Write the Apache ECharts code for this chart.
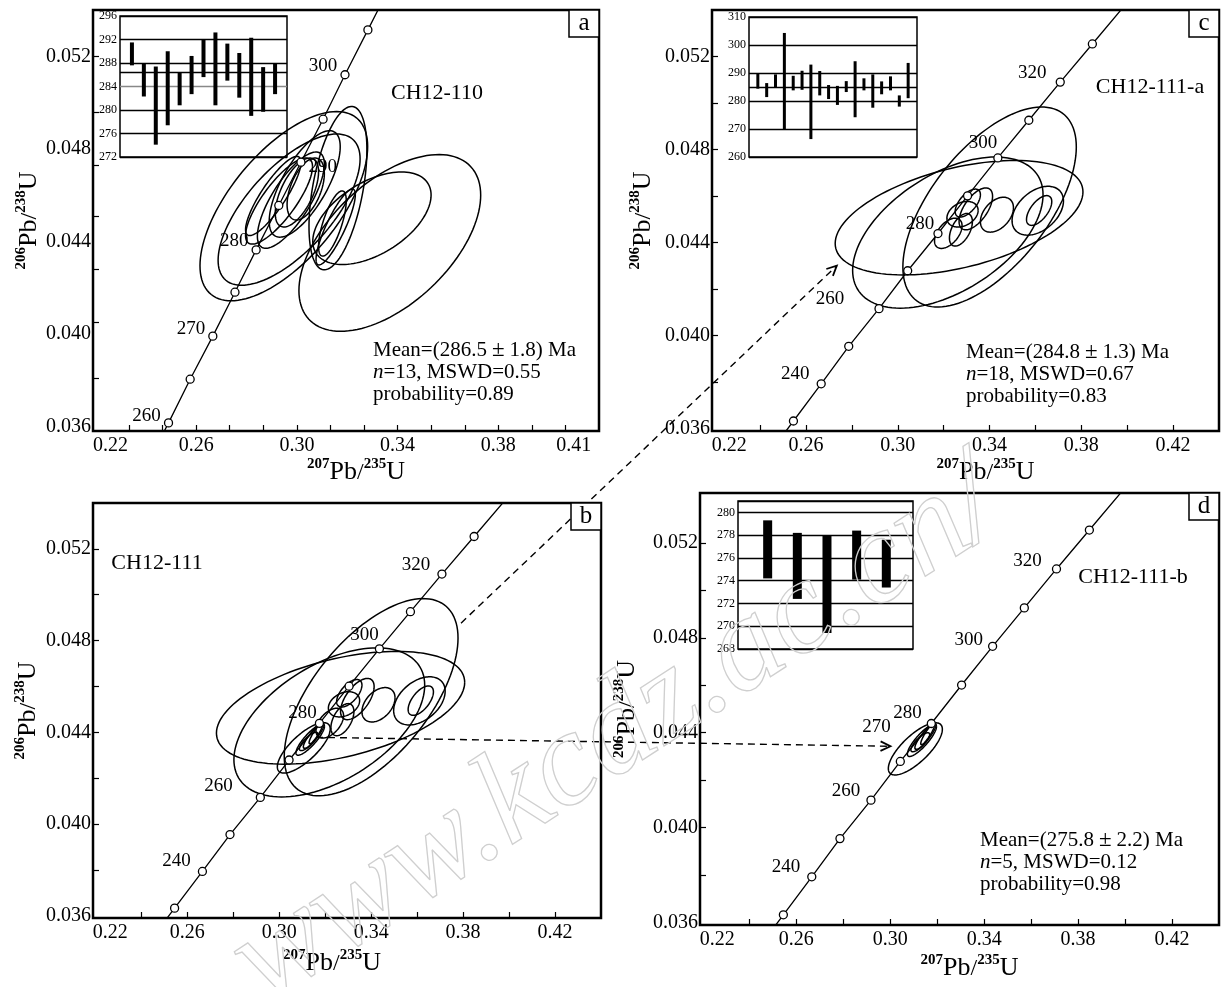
<!DOCTYPE html>
<html><head><meta charset="utf-8">
<script src="https://cdn.jsdelivr.net/npm/echarts@6/dist/echarts.min.js"></script>
<style>html,body{margin:0;padding:0;background:#fff}#c{width:1227px;height:987px}</style>
</head><body><div id="c"></div><script>
// ================= DATA =================
// Panel a concordia (markers every 5 Ma)
const concA_age = [260,265,270,275,280,285,290,295,300,305];
const concA_x = [0.2490,0.2576,0.2666,0.2754,0.2838,0.2928,0.3016,0.3104,0.3191,0.3282];
const concA_y = [0.03615,0.03804,0.03990,0.04180,0.04363,0.04555,0.04742,0.04928,0.05120,0.05314];
const concA_labels = [260,270,280,290,300];
const concA_ends = [[0.2464,0.0356],[0.3350,0.0546]];
// Panels b, c, d concordia (markers every 10 Ma)
const conc_age = [230,240,250,260,270,280,290,300,310,320,330];
const conc_x = [0.2545,0.2666,0.2786,0.2918,0.3043,0.3175,0.3304,0.3436,0.3571,0.3708,0.3848];
const conc_y = [0.03633,0.03793,0.03954,0.04116,0.04279,0.04439,0.04601,0.04764,0.04926,0.05090,0.05254];
const conc_ends = [[0.2505,0.0358],[0.4015,0.0545]];
const concB_labels = [240,260,280,300,320];
const concC_labels = [240,260,280,300,320];
const concD_labels = [240,260,270,280,300,320];

// Axis ticks / labels
const xTicksA = [0.2333,0.2467,0.26,0.2733,0.2867,0.30,0.3133,0.3267,0.34,0.3533,0.3667,0.38,0.3933,0.4067];
const xLabelsA = [0.22,0.26,0.30,0.34,0.38,0.41];
const yTicksA = [0.0381,0.0405,0.0428,0.0451,0.0473,0.0496,0.0520];
const yLabelsA = [0.036,0.040,0.044,0.048,0.052];
const xTicks = [0.24,0.26,0.28,0.30,0.32,0.34,0.36,0.38,0.40,0.42];
const xLabels = [0.22,0.26,0.30,0.34,0.38,0.42];
const yTicks = [0.038,0.040,0.042,0.044,0.046,0.048,0.050,0.052];
const yLabels = [0.036,0.040,0.044,0.048,0.052];

// Error ellipses: [x centre, y centre, x half-width, y half-height, rho]
const ellipsesA = [
  [0.2948,0.04552,0.0333,0.00409,0.63],
  [0.2969,0.04537,0.0282,0.00327,0.67],
  [0.3369,0.04393,0.0361,0.00382,0.54],
  [0.3298,0.04500,0.0235,0.00200,0.50],
  [0.3163,0.04630,0.0115,0.00353,0.47],
  [0.2929,0.04574,0.0133,0.00186,0.80],
  [0.2976,0.04578,0.0133,0.00208,0.75],
  [0.3035,0.04626,0.0074,0.00134,0.50],
  [0.3031,0.04648,0.0141,0.00230,0.70],
  [0.3154,0.04462,0.0078,0.00164,0.85],
  [0.3141,0.04477,0.0055,0.00141,0.70],
  [0.2906,0.04596,0.0110,0.00171,0.85],
  [0.3000,0.04611,0.0086,0.00149,0.60]
];
const ellipsesC = [
  [0.3400,0.04553,0.0378,0.00430,0.60],
  [0.3267,0.04507,0.0540,0.00246,0.45],
  [0.3218,0.04443,0.0415,0.00325,0.50],
  [0.3610,0.04537,0.0112,0.00105,0.40],
  [0.3616,0.04538,0.0055,0.00064,0.60],
  [0.3432,0.04520,0.0072,0.00075,0.40],
  [0.3340,0.04545,0.0073,0.00090,0.60],
  [0.3282,0.04522,0.0068,0.00055,0.30],
  [0.3220,0.04440,0.0060,0.00065,0.50],
  [0.3275,0.04455,0.0050,0.00070,0.50],
  [0.3305,0.04570,0.0055,0.00060,0.60]
];
const ellipsesD = [
  [0.3107,0.04332,0.0115,0.00110,0.75],
  [0.3135,0.04368,0.0062,0.00068,0.85],
  [0.3150,0.04385,0.0045,0.00055,0.88],
  [0.3160,0.04395,0.0030,0.00045,0.90],
  [0.3128,0.04360,0.0040,0.00040,0.80]
];

// Inset age bars (Ma): low / high
const insetA_low  = [287.6,282.3,274.1,277.4,280.8,282.7,285.6,280.8,285.0,282.1,279.0,279.7,282.7];
const insetA_high = [291.5,288.0,287.4,290.0,286.4,289.2,292.0,293.2,291.3,289.7,292.3,287.3,288.0];
const insetC_low  = [284.4,281.4,285.0,270.0,283.8,284.0,266.4,282.0,280.7,278.6,283.2,274.2,283.8,277.6,282.4,283.8,278.0,281.0];
const insetC_high = [290.0,286.4,289.5,304.3,289.0,290.8,293.0,290.7,285.7,285.4,287.1,294.2,288.1,289.5,287.0,288.8,282.0,293.6];
const insetD_low  = [274.2,272.4,269.4,274.1,273.4];
const insetD_high = [279.3,278.2,278.0,278.4,277.6];
const meanA = 286.5, meanC = 284.8;

const samples = ['CH12-110','CH12-111-a','CH12-111','CH12-111-b'];
const stats = {
  a: ['286.5','1.8','13','0.55','0.89'],
  c: ['284.8','1.3','18','0.67','0.83'],
  d: ['275.8','2.2','5','0.12','0.98']
};
// arrow annotations (data coords of the source / target panels)
const arrow1 = {from:[0.3791,0.04876], to:[0.2734,0.04301]}; // b -> c
const arrow2 = {from:[0.3160,0.04378], to:[0.3001,0.04343]}; // b -> d

// ================= STYLE / LAYOUT =================
const FONT = "'Liberation Serif','Times New Roman',serif";
const G = {
  a:{left:93,top:10,width:506,height:421},
  ai:{left:120,top:16,width:167,height:141},
  c:{left:712,top:10,width:507,height:421},
  ci:{left:749,top:17,width:168,height:140},
  b:{left:93,top:503,width:508,height:415},
  d:{left:700,top:493,width:519,height:432},
  di:{left:738,top:501,width:175,height:148}
};
const labelOffsets = {
  a:{260:[0,-7],270:[0,-7],280:[0,-9],290:[0,5],300:[0,-9]},
  b:{240:[-4,-10],260:[-20,-11],280:[5,-10],300:[7,-14],320:[-4,-9]},
  c:{240:[-4,-10],260:[-27,-10],280:[4,-10],300:[7,-15],320:[-6,-9]},
  d:{240:[-4,-10],260:[-3,-9],270:[-2,-34],280:[-2,-10],300:[-2,-6],320:[-7,-8]}
};

const chart = echarts.init(document.getElementById('c'));

const nameRich = {
  sup:{fontSize:15,fontWeight:'bold',fontFamily:FONT,verticalAlign:'top',lineHeight:28,color:'#000'},
  m:{fontSize:26,fontFamily:FONT,lineHeight:28,color:'#000',verticalAlign:'bottom'},
  sl:{fontSize:24,fontFamily:FONT,lineHeight:28,color:'#000',verticalAlign:'bottom'}
};
const firstLabelRich = {first:{fontFamily:FONT,fontSize:20,color:'#000',padding:[0,0,0,30]}};
function mainX(gi, ticks, labels, min, max, gap, pad){
  return {gridIndex:gi,type:'value',min:min,max:max,
    name:'{sup|207}{m|Pb}{sl|/}{sup|235}{m|U}',nameLocation:'middle',nameGap:gap,
    nameTextStyle:{rich:nameRich,padding:pad||0},
    axisLine:{show:true,onZero:false,lineStyle:{color:'#000',width:2}},
    axisTick:{show:true,inside:true,length:6,customValues:ticks,lineStyle:{color:'#000',width:1.2}},
    axisLabel:{customValues:labels,formatter:v=>(v<0.221?'{first|'+v.toFixed(2)+'}':v.toFixed(2)),
      rich:firstLabelRich,fontFamily:FONT,fontSize:20,color:'#000',margin:5},
    splitLine:{show:false}};
}
function mainY(gi, ticks, labels, min, max, gap){
  return {gridIndex:gi,type:'value',min:min,max:max,
    name:'{sup|206}{m|Pb}{sl|/}{sup|238}{m|U}',nameLocation:'middle',nameGap:gap,
    nameTextStyle:{rich:nameRich},
    axisLine:{show:true,onZero:false,lineStyle:{color:'#000',width:2}},
    axisTick:{show:true,inside:true,length:6,customValues:ticks,lineStyle:{color:'#000',width:1.2}},
    axisLabel:{customValues:labels,formatter:v=>v.toFixed(3),fontFamily:FONT,fontSize:20,color:'#000',margin:2},
    splitLine:{show:false}};
}
function insetX(gi,max){return {gridIndex:gi,type:'value',min:0,max:max,show:false};}
function insetY(gi,min,max,interval,colors){
  return {gridIndex:gi,type:'value',min:min,max:max,interval:interval,
    axisLine:{show:false},axisTick:{show:false},
    axisLabel:{fontFamily:FONT,fontSize:12,color:'#000',margin:3,
      formatter:v=>((v-min)%interval===0?String(v):'')},
    splitLine:{show:true,lineStyle:{color:colors||'#000',width:1.3}}};
}

function ellipseRender(params, api){
  const cx=api.value(0),cy=api.value(1),sx=api.value(2),sy=api.value(3),r=api.value(4);
  const q=Math.sqrt(1-r*r), pts=[];
  for(let k=0;k<=120;k++){const t=k/120*2*Math.PI;
    pts.push(api.coord([cx+sx*Math.cos(t), cy+sy*(r*Math.cos(t)+q*Math.sin(t))]));}
  return {type:'polyline',shape:{points:pts},style:{fill:'none',stroke:'#000',lineWidth:1.5}};
}
function ellSeries(gi, data){
  return {type:'custom',xAxisIndex:gi,yAxisIndex:gi,renderItem:ellipseRender,
    encode:{x:0,y:1},data:data,z:3,silent:true,clip:true};
}
function barRender(w){
  return function(params, api){
    const i=api.value(0), lo=api.value(1), hi=api.value(2);
    const p1=api.coord([i,hi]), p2=api.coord([i,lo]);
    return {type:'rect',shape:{x:p1[0]-w/2,y:p1[1],width:w,height:p2[1]-p1[1]},style:{fill:'#000'}};
  };
}
function barSeries(gi, lows, highs, w, mean){
  const s = {type:'custom',xAxisIndex:gi,yAxisIndex:gi,renderItem:barRender(w),
    encode:{x:0,y:[1,2]},data:lows.map((l,i)=>[i+1,l,highs[i]]),z:5,silent:true};
  if(mean!=null){
    s.markLine={symbol:'none',silent:true,label:{show:false},
      lineStyle:{color:'#000',width:1.3,type:'solid'},data:[{yAxis:mean}]};
  }
  return s;
}
function concSeries(gi, ages, xs, ys, ends, labs, offs){
  const data=[{value:ends[0],symbol:'none'}];
  ages.forEach((a,i)=>{
    const it={value:[xs[i],ys[i]]};
    if(labs.indexOf(a)>=0){
      const o=offs[a]||[0,-9];
      const right = (a===290 && gi===0);
      it.label={show:true,formatter:String(a),position:right?'right':'left',distance:3,offset:o};
    }
    data.push(it);
  });
  data.push({value:ends[1],symbol:'none'});
  return {type:'line',xAxisIndex:gi,yAxisIndex:gi,data:data,z:6,silent:true,
    symbol:'circle',symbolSize:8,showAllSymbol:true,
    lineStyle:{color:'#000',width:1.3},
    itemStyle:{color:'#fff',borderColor:'#000',borderWidth:1.3},
    label:{show:false,fontFamily:FONT,fontSize:19,color:'#000'},
    animation:false};
}

const grids = [G.a,G.ai,G.c,G.ci,G.b,G.d,G.di].map((g,i)=>Object.assign({show:true,borderColor:'#000',
  borderWidth:(i===1||i===3||i===6)?1.5:2.5,backgroundColor:'transparent',containLabel:false},g));

const option = {
  animation:false,
  backgroundColor:'#fff',
  grid:grids,
  xAxis:[
    mainX(0,xTicksA,xLabelsA,0.219,0.42,21,[0,0,0,20]),
    insetX(1,14),
    mainX(2,xTicks,xLabels,0.219,0.44,23,[0,0,0,40]),
    insetX(3,19),
    mainX(4,xTicks,xLabels,0.219,0.44,30,[0,30,0,0]),
    mainX(5,xTicks,xLabels,0.219,0.44,28,[0,0,0,20]),
    insetX(6,5.9)
  ],
  yAxis:[
    mainY(0,yTicksA,yLabelsA,0.0358,0.0540,50),
    insetY(1,272,296,4,['#000','#000','#000','#888','#000','#000','#000']),
    mainY(2,yTicks,yLabels,0.0359,0.0540,56),
    insetY(3,260,310,10),
    mainY(4,yTicks,yLabels,0.0359,0.0540,52),
    mainY(5,yTicks,yLabels,0.0359,0.0541,60),
    insetY(6,268,281,2)
  ],
  series:[
    ellSeries(0,ellipsesA),
    concSeries(0,concA_age,concA_x,concA_y,concA_ends,concA_labels,labelOffsets.a),
    barSeries(1,insetA_low,insetA_high,4,meanA),
    ellSeries(2,ellipsesC),
    concSeries(2,conc_age,conc_x,conc_y,conc_ends,concC_labels,labelOffsets.c),
    barSeries(3,insetC_low,insetC_high,3,meanC),
    ellSeries(4,ellipsesC.concat(ellipsesD)),
    concSeries(4,conc_age,conc_x,conc_y,conc_ends,concB_labels,labelOffsets.b),
    ellSeries(5,ellipsesD),
    concSeries(5,conc_age,conc_x,conc_y,conc_ends,concD_labels,labelOffsets.d),
    barSeries(6,insetD_low,insetD_high,9,null)
  ]
};
chart.setOption(option);

// ---------- annotations ----------
function txt(x,y,text,size,align,extra){
  return Object.assign({type:'text',x:x,y:y,z:20,silent:true,style:{text:text,fontFamily:FONT,fontSize:size,fill:'#000',
    align:align||'left',verticalAlign:'middle'}},extra||{});
}
const statRich = {
  t:{fontFamily:FONT,fontSize:21,fill:'#000'},
  i:{fontFamily:FONT,fontSize:21,fontStyle:'italic',fill:'#000'},
  pm:{fontFamily:FONT,fontSize:23,fill:'#000',padding:[0,5,0,5]}
};
function statBlock(x,y,s){
  const mk=(t,dy)=>({type:'text',x:x,y:y+dy,z:20,silent:true,style:{text:t,fontFamily:FONT,fontSize:21,fill:'#000',
      verticalAlign:'middle',rich:statRich}});
  return [
    mk('{t|Mean=(' + s[0] + '}{pm|±}{t|' + s[1] + ') Ma}',0),
    mk('{i|n}{t|=' + s[2] + ', MSWD=' + s[3] + '}',22),
    mk('{t|probability=' + s[4] + '}',44)
  ];
}
function letterBox(g,letter){
  const r=g.left+g.width, t=g.top;
  return [
    {type:'rect',z:20,silent:true,shape:{x:r-30,y:t,width:30,height:27},style:{fill:'#fff',stroke:'#000',lineWidth:1.5}},
    txt(r-15,t+13,letter,25,'center')
  ];
}
function arrowGraphic(p0,p1,withHead){
  const els=[{type:'line',z:15,silent:true,shape:{x1:p0[0],y1:p0[1],x2:p1[0],y2:p1[1]},
    style:{stroke:'#000',lineWidth:1.4,lineDash:[7,5]}}];
  if(withHead){
    const ang=Math.atan2(p1[1]-p0[1],p1[0]-p0[0]), L=11, sp=0.45;
    const a1=[p1[0]-L*Math.cos(ang-sp),p1[1]-L*Math.sin(ang-sp)];
    const a2=[p1[0]-L*Math.cos(ang+sp),p1[1]-L*Math.sin(ang+sp)];
    els.push({type:'polyline',z:15,silent:true,shape:{points:[a1,p1,a2]},style:{stroke:'#000',lineWidth:1.8,fill:'none'}});
  }
  return els;
}
const a1p0 = chart.convertToPixel({gridIndex:4}, arrow1.from);
const a1p1 = chart.convertToPixel({gridIndex:2}, arrow1.to);
const a2p0 = chart.convertToPixel({gridIndex:4}, arrow2.from);
const a2p1 = chart.convertToPixel({gridIndex:5}, arrow2.to);

const graphics = [].concat(
  [txt(G.a.left+344,93,samples[0],22,'center')],
  [txt(G.c.left+438,87,samples[1],22,'center')],
  [txt(G.b.left+64,563,samples[2],22,'center')],
  [txt(G.d.left+433,577,samples[3],22,'center')],
  statBlock(373,350,stats.a),
  statBlock(966,352,stats.c),
  statBlock(980,840,stats.d),
  letterBox(G.a,'a'), letterBox(G.c,'c'), letterBox(G.b,'b'), letterBox(G.d,'d'),
  arrowGraphic(a1p0,a1p1,true),
  arrowGraphic(a2p0,a2p1,true),
  [{type:'text',x:282,y:1032,rotation:33*Math.PI/180,z:30,silent:true,
    style:{text:'www.kcdz.ac.cn/',fontFamily:FONT,fontStyle:'italic',fontSize:134,fill:'rgba(255,255,255,0)',
      stroke:'#cfcfcf',lineWidth:1.3,align:'left',verticalAlign:'bottom'}}]
);
chart.setOption({graphic:graphics});
</script></body></html>
